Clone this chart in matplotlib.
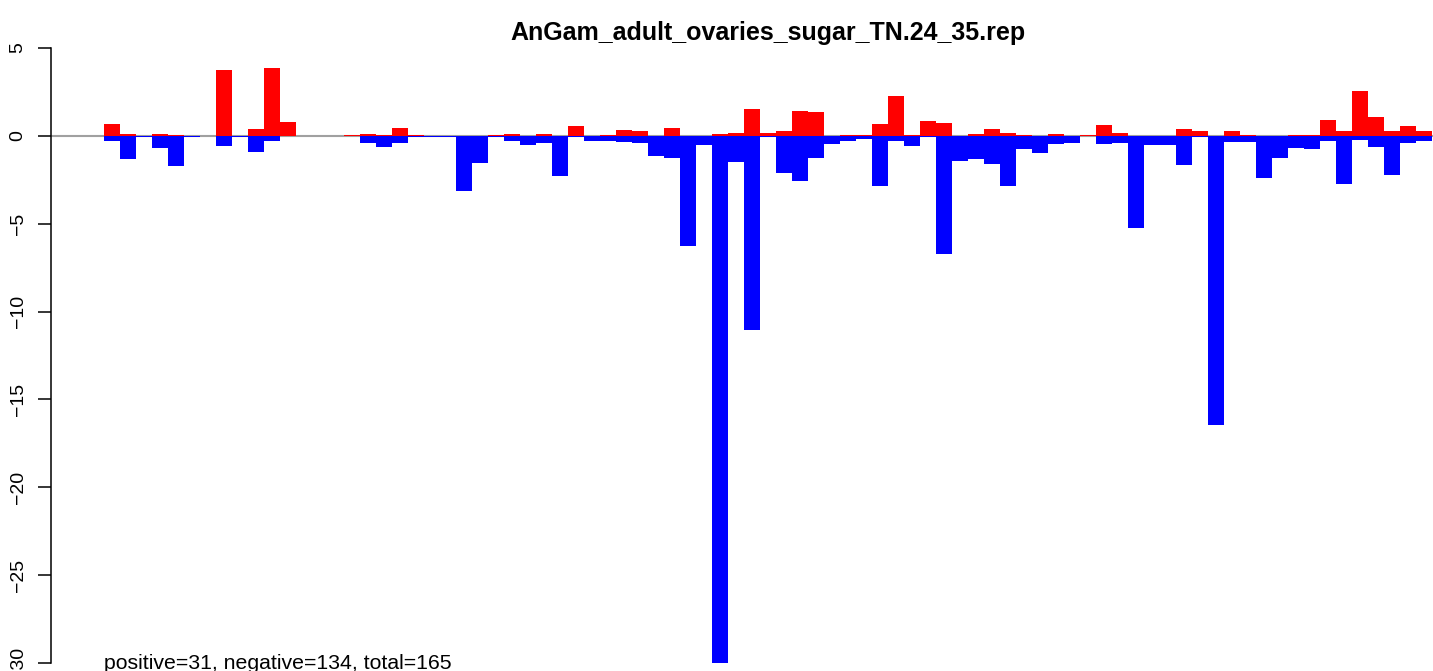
import matplotlib
matplotlib.use("Agg")
import matplotlib.pyplot as plt
import numpy as np

plt.rcParams['font.family'] = ['Liberation Sans', 'DejaVu Sans']

title = "AnGam_adult_ovaries_sugar_TN.24_35.rep"
summary = "positive=31, negative=134, total=165"

# positive part of each bin (red)
pos = [0.66, 0.09, 0.0, 0.09, 0.04, 0.0, 0.0, 3.74, 0.0, 0.38,
       3.85, 0.78, 0.0, 0.0, 0.0, 0.04, 0.09, 0.04, 0.44, 0.04,
       0.0, 0.0, 0.0, 0.0, 0.04, 0.09, 0.0, 0.09, 0.0, 0.55,
       0.0, 0.04, 0.32, 0.27, 0.0, 0.44, 0.0, 0.0, 0.09, 0.15,
       1.52, 0.15, 0.27, 1.40, 1.35, 0.0, 0.04, 0.04, 0.66, 2.26,
       0.04, 0.83, 0.72, 0.0, 0.09, 0.38, 0.15, 0.04, 0.0, 0.09,
       0.0, 0.04, 0.61, 0.15, 0.0, 0.0, 0.0, 0.38, 0.27, 0.0,
       0.27, 0.04, 0.0, 0.0, 0.04, 0.04, 0.89, 0.27, 2.54, 1.06,
       0.27, 0.55, 0.27]

# negative part of each bin (blue)
neg = [-0.28, -1.31, -0.06, -0.68, -1.71, -0.06, 0.0, -0.57, -0.10, -0.91,
       -0.28, 0.0, 0.0, 0.0, 0.0, 0.0, -0.40, -0.63, -0.40, -0.06,
       -0.10, -0.10, -3.13, -1.54, -0.06, -0.28, -0.51, -0.40, -2.28, -0.10,
       -0.28, -0.28, -0.34, -0.40, -1.14, -1.25, -6.30, -0.51, -30.0, -1.48,
       -11.05, -0.10, -2.10, -2.56, -1.25, -0.46, -0.28, -0.17, -2.85, -0.28,
       -0.57, -0.10, -6.75, -1.42, -1.31, -1.59, -2.85, -0.74, -0.97, -0.46,
       -0.40, 0.0, -0.46, -0.40, -5.24, -0.51, -0.51, -1.65, -0.06, -16.46,
       -0.34, -0.34, -2.39, -1.25, -0.68, -0.74, -0.28, -2.73, -0.23, -0.63,
       -2.22, -0.40, -0.28]

yticks = [5, 0, -5, -10, -15, -20, -25, -30]

W, H = 1433, 671
fig = plt.figure(figsize=(W / 100, H / 100), dpi=100)
# plot region runs past the right and bottom edges of the picture
ax = fig.add_axes([51 / W, 1 - 689 / H, 1434 / W, 645 / H])

n = len(pos)
x = np.arange(n)
ax.axhline(0, color='#a0a0a0', lw=1.5, zorder=1)
ax.bar(x, pos, width=1.0, align='edge', color='red', lw=0, zorder=2)
ax.bar(x, neg, width=1.0, align='edge', color='blue', lw=0, zorder=2)

ax.set_xlim(-0.04 * n, n * 1.04)
ax.set_ylim(-31.46, 5.21)

for s in ['top', 'right', 'bottom']:
    ax.spines[s].set_visible(False)
ax.spines['left'].set_bounds(-30, 5)
ax.spines['left'].set_linewidth(1.1)
ax.set_xticks([])
ax.set_yticks(yticks)
ax.set_yticklabels([str(v).replace('-', '\u2212') for v in yticks],
                   rotation=90, va='center', fontsize=14)
ax.tick_params(axis='y', length=9.5, width=1.1, pad=8)

ax.text(0, -30, summary, ha='left', va='center', fontsize=15.3)
fig.text(768 / W, 1 - 33 / H, title, ha='center', va='center',
         fontsize=18, fontweight='bold')

fig.savefig('out.png', dpi=100)
